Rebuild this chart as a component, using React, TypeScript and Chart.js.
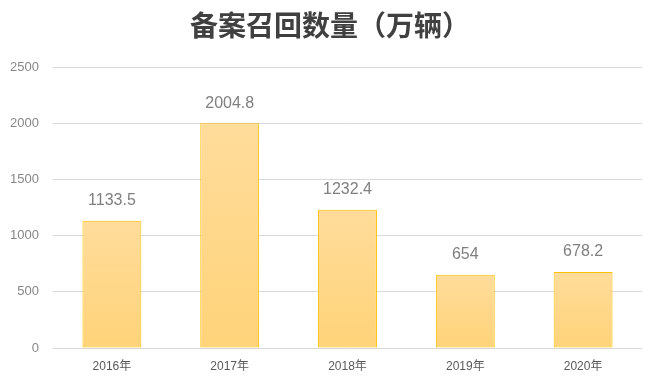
import React, { useEffect, useRef } from "react";
import { Chart, registerables } from "chart.js";

Chart.register(...registerables);

const categories = ["2016年", "2017年", "2018年", "2019年", "2020年"];
const recallValues = [1133.5, 2004.8, 1232.4, 654, 678.2];
const titleText = "备案召回数量（万辆）";
const yMin = 0;
const yMax = 2500;
const yStep = 500;

const valueLabelPlugin = {
  id: "valueLabels",
  afterDatasetsDraw(chart: any) {
    const { ctx } = chart;
    const meta = chart.getDatasetMeta(0);
    const data = chart.data.datasets[0].data;
    ctx.save();
    ctx.font = '16px "Liberation Sans", Arial, sans-serif';
    ctx.fillStyle = "#7f7f7f";
    ctx.textAlign = "center";
    ctx.textBaseline = "middle";
    meta.data.forEach((bar: any, i: number) => {
      ctx.fillText(String(data[i]), bar.x, bar.y - 20);
    });
    ctx.restore();
  },
};

export default function App() {
  const ref = useRef<HTMLCanvasElement | null>(null);

  useEffect(() => {
    if (!ref.current) return;
    const chart = new Chart(ref.current, {
      type: "bar",
      data: {
        labels: categories,
        datasets: [
          {
            data: recallValues,
            yAxisID: "y",
            backgroundColor: (c: any) => {
              const ch = c.chart;
              const ys = ch.scales && ch.scales.y;
              if (!ch.chartArea || !ys || c.raw === undefined) return "#ffd98c";
              const top = ys.getPixelForValue(c.raw);
              const bottom = ys.getPixelForValue(0);
              if (!isFinite(top) || !isFinite(bottom) || top === bottom) return "#ffd98c";
              const g = ch.ctx.createLinearGradient(0, top, 0, bottom);
              g.addColorStop(0, "#ffdc9b");
              g.addColorStop(1, "#ffd379");
              return g;
            },
            borderColor: "#ffc000",
            borderWidth: 1,
            borderSkipped: false,
            barPercentage: 0.5,
            categoryPercentage: 1,
          },
        ],
      },
      options: {
        responsive: false,
        animation: false,
        layout: { padding: 0 },
        plugins: {
          legend: { display: false },
          tooltip: { enabled: false },
          title: {
            display: true,
            text: titleText,
            color: "#404040",
            font: { family: '"Noto Sans CJK SC", sans-serif', size: 28, weight: "bold" },
            padding: { top: 9, bottom: 25 },
          },
        },
        scales: {
          x: {
            grid: { display: false, drawTicks: false },
            border: { display: false },
            ticks: {
              color: "#595959",
              font: { family: '"Liberation Sans", "Noto Sans CJK SC", sans-serif', size: 12 },
              padding: 11,
            },
            afterFit: (s: any) => {
              s.height = 39;
            },
          },
          y: {
            min: yMin,
            max: yMax,
            ticks: {
              stepSize: yStep,
              color: "#888888",
              font: { family: '"Liberation Sans", sans-serif', size: 13 },
              padding: 14,
              callback: (v: any) => String(v),
            },
            grid: { color: "#d9d9d9", drawTicks: false },
            border: { display: false },
            afterFit: (s: any) => {
              s.width = 53;
            },
          },
          yRightSpace: {
            position: "right",
            min: yMin,
            max: yMax,
            grid: { display: false, drawTicks: false },
            border: { display: false },
            ticks: { display: false },
            afterFit: (s: any) => {
              s.width = 18;
            },
          },
        },
      },
      plugins: [valueLabelPlugin],
    });
    return () => chart.destroy();
  }, []);

  return (
    <div style={{ position: "absolute", left: 0, top: 0, width: 660, height: 387, background: "#fff" }}>
      <canvas ref={ref} width={660} height={387} />
    </div>
  );
}
